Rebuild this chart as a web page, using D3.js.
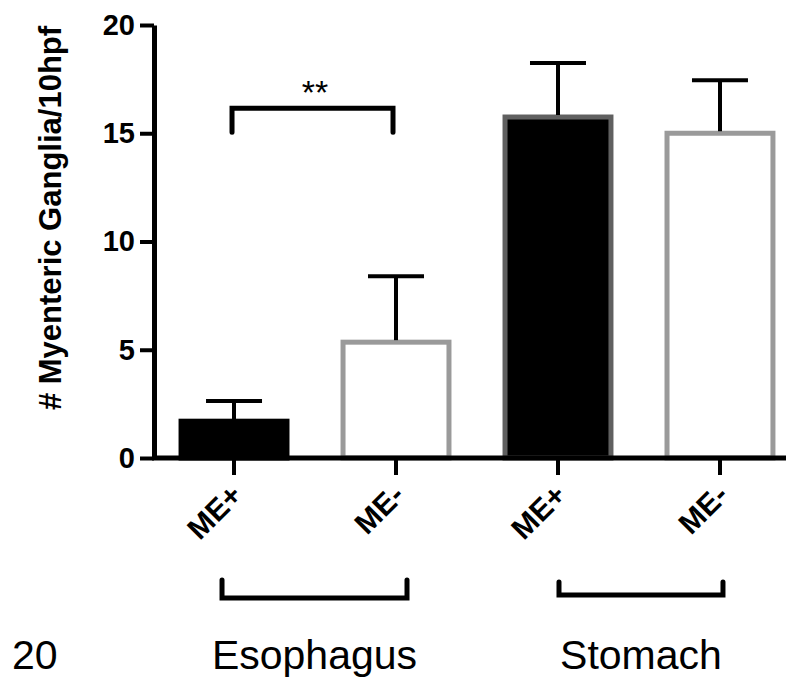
<!DOCTYPE html>
<html>
<head>
<meta charset="utf-8">
<script src="https://cdn.jsdelivr.net/npm/d3@7"></script>
<style>
  body { margin: 0; background: #fff; }
  text { font-family: "Liberation Sans", Arial, sans-serif; }
</style>
</head>
<body>
<div></div>
<script>
// tamaño del lienzo
var width = 800
var height = 694

// datos
var groups = ['Esophagus', 'Stomach']
var bars = ['Esophagus ME+', 'Esophagus ME-', 'Stomach ME+', 'Stomach ME-']
var barLabels = ['ME+', 'ME-', 'ME+', 'ME-']
var means = [1.7, 5.35, 15.75, 15.0]
var errTops = [2.63, 8.4, 18.25, 17.45]
var yTicks = [0, 5, 10, 15, 20]
var sigPair = ['Esophagus ME+', 'Esophagus ME-']
var sigText = '**'

// estilos por barra
var fills = ['#000', '#fff', '#000', '#fff']
var strokes = ['#000', '#9a9a9a', '#606060', '#9a9a9a']

var svg = d3.select('div')
    .append('svg')
    .attr('width', width)
    .attr('height', height)
    .append('g');

// escalas
var scaleX = d3.scaleBand()
    .domain(bars)
    .range([154, 800])
    .paddingInner(0.346)
    .paddingOuter(0.167);

var scaleY = d3.scaleLinear()
    .domain([0, 20])
    .range([458, 25]);

var cx = (d) => scaleX(d) + scaleX.bandwidth() / 2

// barras
svg.append('g')
    .selectAll('rect')
    .data(bars)
    .enter()
    .append('rect')
    .attr('x', (d) => scaleX(d))
    .attr('y', (d, i) => scaleY(means[i]))
    .attr('width', scaleX.bandwidth())
    .attr('height', (d, i) => scaleY(0) - scaleY(means[i]))
    .attr('fill', (d, i) => fills[i])
    .attr('stroke', (d, i) => strokes[i])
    .attr('stroke-width', 5);

// barras de error
var err = svg.append('g')
    .attr('stroke', '#000')
    .attr('stroke-width', 4);

err.selectAll('line.v')
    .data(bars)
    .enter()
    .append('line')
    .attr('class', 'v')
    .attr('x1', cx)
    .attr('x2', cx)
    .attr('y1', (d, i) => scaleY(means[i]) - 2)
    .attr('y2', (d, i) => scaleY(errTops[i]));

err.selectAll('line.cap')
    .data(bars)
    .enter()
    .append('line')
    .attr('class', 'cap')
    .attr('x1', (d) => cx(d) - 28)
    .attr('x2', (d) => cx(d) + 28)
    .attr('y1', (d, i) => scaleY(errTops[i]))
    .attr('y2', (d, i) => scaleY(errTops[i]));

// ejes
var yaxis = d3.axisLeft(scaleY)
    .tickValues(yTicks)
    .tickSize(14)
    .tickSizeOuter(0)
    .tickPadding(5);

var gy = svg.append('g')
    .attr('transform', 'translate(154,0)')
    .call(yaxis);
gy.select('.domain').attr('stroke-width', 5);
gy.selectAll('.tick line').attr('stroke-width', 4);
gy.selectAll('.tick text')
    .attr('font-size', 29)
    .attr('font-weight', 'bold')
    .attr('fill', '#000');

var xaxis = d3.axisBottom(scaleX)
    .tickSize(17)
    .tickSizeOuter(0)
    .tickFormat((d, i) => barLabels[i]);

var gx = svg.append('g')
    .attr('transform', 'translate(0,' + scaleY(0) + ')')
    .call(xaxis);
gx.select('.domain').remove();
gx.selectAll('.tick line').attr('stroke-width', 4);
gx.selectAll('.tick text')
    .attr('font-size', 30)
    .attr('font-weight', 'bold')
    .attr('fill', '#000')
    .attr('text-anchor', 'end')
    .attr('y', 0)
    .attr('dy', 0)
    .attr('transform', 'translate(10,39) rotate(-45)');

// linea base del eje x
svg.append('line')
    .attr('x1', 152)
    .attr('x2', 786)
    .attr('y1', scaleY(0))
    .attr('y2', scaleY(0))
    .attr('stroke', '#000')
    .attr('stroke-width', 5);

// titulo del eje y
svg.append('text')
    .attr('transform', 'translate(61,218) rotate(-90)')
    .attr('text-anchor', 'middle')
    .attr('font-size', 31)
    .attr('font-weight', 'bold')
    .text('# Myenteric Ganglia/10hpf');

// corchete de significancia
var sy = scaleY(16.15)
var sy2 = scaleY(15.05)
svg.append('path')
    .attr('d', 'M' + (cx(sigPair[0]) - 2) + ',' + sy2 + 'V' + sy + 'H' + (cx(sigPair[1]) - 3) + 'V' + sy2)
    .attr('fill', 'none')
    .attr('stroke', '#000')
    .attr('stroke-width', 5)
    .attr('stroke-linecap', 'round');

svg.append('text')
    .attr('x', (cx(sigPair[0]) + cx(sigPair[1])) / 2)
    .attr('y', 104)
    .attr('text-anchor', 'middle')
    .attr('font-size', 34)
    .text(sigText);

// corchetes de grupo
var groupSpan = [[bars[0], bars[1], -12, 11], [bars[2], bars[3], 1, 3]]
var gTop = [580, 582]
var gBot = [598, 595]

groups.forEach((g, i) => {
    var x1 = cx(groupSpan[i][0]) + groupSpan[i][2]
    var x2 = cx(groupSpan[i][1]) + groupSpan[i][3]
    svg.append('path')
        .attr('d', 'M' + x1 + ',' + gTop[i] + 'V' + gBot[i] + 'H' + x2 + 'V' + gTop[i])
        .attr('fill', 'none')
        .attr('stroke', '#000')
        .attr('stroke-width', 5)
        .attr('stroke-linecap', 'round');
    svg.append('text')
        .attr('x', (x1 + x2) / 2)
        .attr('y', 669)
        .attr('text-anchor', 'middle')
        .attr('font-size', 41)
        .text(g);
});

// numero suelto en la esquina
svg.append('text')
    .attr('x', 12)
    .attr('y', 669)
    .attr('font-size', 41)
    .text('20');
</script>
</body>
</html>
